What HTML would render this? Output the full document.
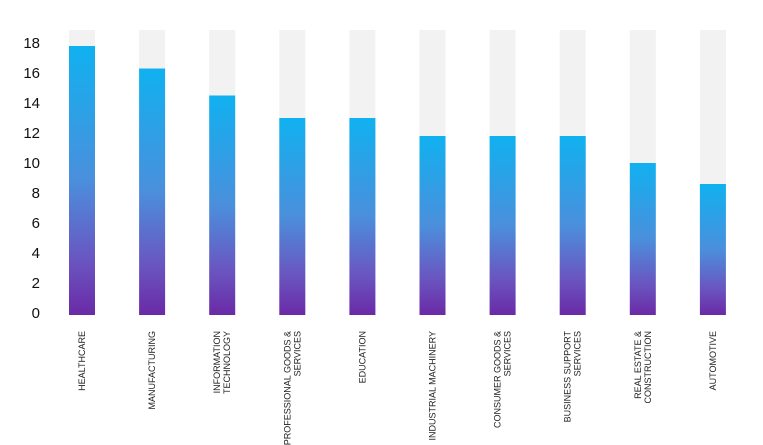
<!DOCTYPE html>
<html><head><meta charset="utf-8"><style>
body{margin:0;background:#fff;}
svg{display:block;font-family:"Liberation Sans",sans-serif;}
</style></head><body>
<svg id="chart" width="763" height="445">
<defs><linearGradient id="g" x1="0" y1="0" x2="0" y2="1" gradientUnits="objectBoundingBox">
<stop offset="0" stop-color="#10b1f0"/><stop offset="0.5" stop-color="#4b8fdc"/><stop offset="0.8" stop-color="#6a55c0"/><stop offset="1" stop-color="#6a2aa6"/></linearGradient></defs>
</svg>
<script>
const categories=[["HEALTHCARE"],["MANUFACTURING"],["INFORMATION","TECHNOLOGY"],["PROFESSIONAL GOODS &","SERVICES"],["EDUCATION"],["INDUSTRIAL MACHINERY"],["CONSUMER GOODS &","SERVICES"],["BUSINESS SUPPORT","SERVICES"],["REAL ESTATE &","CONSTRUCTION"],["AUTOMOTIVE"]];
const values=[17.8,16.3,14.5,13.0,13.0,11.8,11.8,11.8,10.0,8.6];
const yTicks=[0,2,4,6,8,10,12,14,16,18];
const svg=document.getElementById('chart');
const NS='http://www.w3.org/2000/svg';
const y=v=>313-v*15;
const x=i=>82+i*70.1;
const bw=26;
function mk(t,a){const e=document.createElementNS(NS,t);for(const k in a)e.setAttribute(k,a[k]);svg.appendChild(e);return e;}
yTicks.forEach(t=>{const e=mk('text',{x:40,y:y(t)+5,'text-anchor':'end','font-size':15,fill:'#111'});


e.textContent=t;});
values.forEach((v,i)=>{
const bg=mk('rect',{x:x(i)-bw/2,y:30,width:bw,height:315-30,fill:'#f2f2f2'});


const b=mk('rect',{x:x(i)-bw/2,y:y(v),width:bw,height:315-y(v),fill:'url(#g)'});


const lines=categories[i];
const g=mk('text',{transform:`translate(${x(i)},331) rotate(-90)`,'text-anchor':'end','font-size':9,fill:'#222'});


lines.forEach((l,j)=>{const s=document.createElementNS(NS,'tspan');
s.setAttribute('x',0);
s.setAttribute('y',(j-(lines.length-1)/2)*10+3);
s.textContent=l;g.appendChild(s);});
});
</script>
</body></html>
